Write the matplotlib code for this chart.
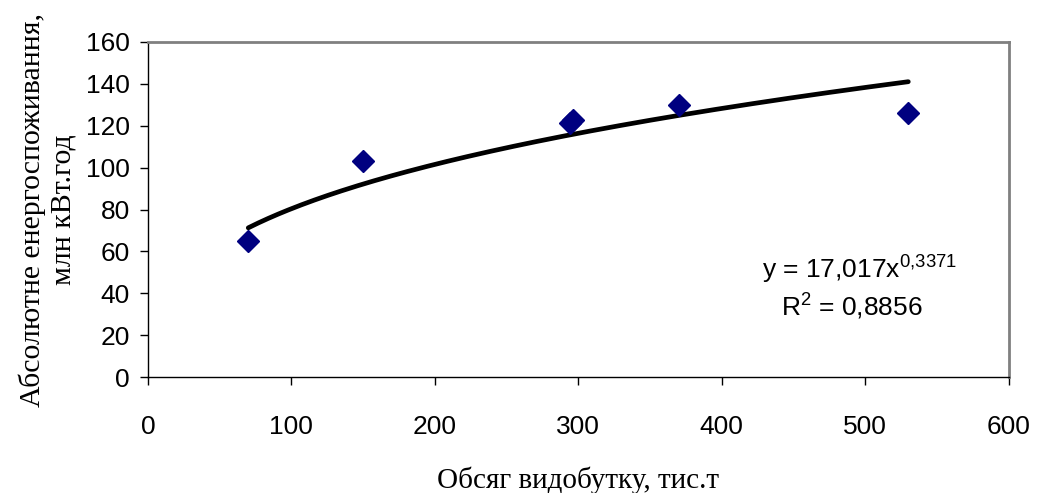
import numpy as np
import matplotlib
matplotlib.use('Agg')
import matplotlib.pyplot as plt

plt.rcParams['mathtext.fontset'] = 'custom'
plt.rcParams['mathtext.rm'] = 'Liberation Sans'
plt.rcParams['mathtext.it'] = 'Liberation Sans'

# data
output_kt = [70, 150, 294, 296, 370, 530]
energy_mwh = [65, 103, 121.5, 122.5, 130, 126]

# power trendline shown on the chart: y = a * x^b
fit_a = 17.017
fit_b = 0.3371
fit_r2 = 0.8856

x_ticks = [0, 100, 200, 300, 400, 500, 600]
y_ticks = [0, 20, 40, 60, 80, 100, 120, 140, 160]

fig = plt.figure(figsize=(10.41, 4.93), dpi=100)
ax = fig.add_axes([0.142, 0.235, 0.827, 0.680])

xs = np.linspace(min(output_kt), max(output_kt), 200)
ax.plot(xs, fit_a * xs ** fit_b, color='black', lw=3.4, solid_capstyle='round', zorder=2)
ax.plot(output_kt, energy_mwh, 'D', color='#000080', markersize=11, zorder=3)

ax.set_xlim(0, 600)
ax.set_ylim(0, 160)
ax.set_xticks(x_ticks)
ax.set_yticks(y_ticks)

tick_font = dict(family='Liberation Sans', size=19)
ax.set_xticklabels([str(v) for v in x_ticks], **tick_font)
ax.set_yticklabels([str(v) for v in y_ticks], **tick_font)
ax.tick_params(direction='out', length=6, width=1, color='black')
ax.tick_params(axis='y', pad=7)
ax.tick_params(axis='x', pad=21)

for side in ('top', 'right'):
    ax.spines[side].set_color('#808080')
    ax.spines[side].set_linewidth(2)
for side in ('left', 'bottom'):
    ax.spines[side].set_color('black')
    ax.spines[side].set_linewidth(1)

ax.set_xlabel('Обсяг видобутку, тис.т', labelpad=20,
              family='Liberation Serif', size=21)
ax.set_ylabel('Абсолютне енергоспоживання,\nмлн кВт.год', labelpad=7,
              linespacing=1.2, family='Liberation Serif', size=21.5)

eq = 'y = 17,017x$^{0{,}3371}$'
ax.text(0.827, 0.32, eq, transform=ax.transAxes,
        ha='center', va='center', family='Liberation Sans', size=19)
ax.text(0.818, 0.21, 'R$^2$ = ' + f'{fit_r2}'.replace('.', ','), transform=ax.transAxes,
        ha='center', va='center', family='Liberation Sans', size=19)

fig.savefig('out.png', dpi=100)
